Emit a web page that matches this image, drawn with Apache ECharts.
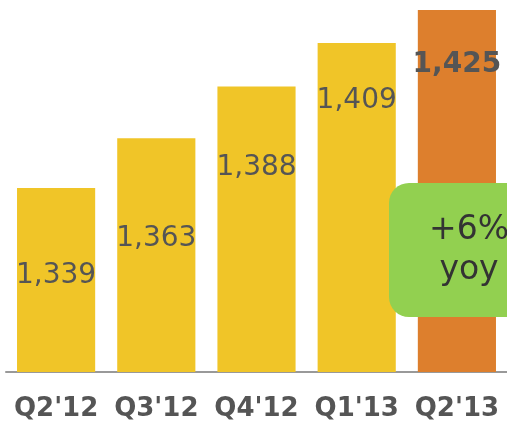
<!DOCTYPE html>
<html>
<head>
<meta charset="utf-8">
<script src="https://cdn.jsdelivr.net/npm/echarts@6/dist/echarts.min.js"></script>
<style>
  html, body { margin: 0; padding: 0; background: #fff; }
  #chart { width: 507px; height: 422px; }
</style>
</head>
<body>
<div id="chart"></div>
<script>
    const quarters = ["Q2'12", "Q3'12", "Q4'12", "Q1'13", "Q2'13"];
    const values = [1339, 1363, 1388, 1409, 1425];
    const yoyText = '+6%\nyoy';

    // how far below the bar top each value label sits
    const labelDrop = [74, 86, 67, 44, 41];

    const yellow = '#F0C528';
    const orange = '#DD7F2D';
    const lastIdx = values.length - 1;

    const chart = echarts.init(document.getElementById('chart'));

    chart.setOption({
        animation: false,
        grid: { left: 6, top: 10, width: 502, height: 362 },
        xAxis: {
            type: 'category',
            data: quarters,
            axisTick: { show: false },
            axisLine: { lineStyle: { color: '#999', width: 2 } },
            axisLabel: {
                interval: 0,
                hideOverlap: false,
                margin: 24,
                color: '#555',
                fontFamily: 'DejaVu Sans',
                fontWeight: 'bold',
                fontSize: 26
            }
        },
        yAxis: {
            type: 'value',
            min: 1250,
            max: 1425,
            show: false,
            splitLine: { show: false }
        },
        series: [{
            type: 'bar',
            barCategoryGap: '22%',
            data: values.map((v, i) => ({
                value: v,
                itemStyle: { color: i === lastIdx ? orange : yellow },
                label: {
                    distance: labelDrop[i],
                    fontWeight: i === lastIdx ? 'bold' : 'normal'
                }
            })),
            label: {
                show: true,
                position: 'insideTop',
                color: '#555',
                fontFamily: 'DejaVu Sans',
                fontSize: 28,
                formatter: p => p.value.toLocaleString('en-US')
            }
        }],
        graphic: [{
            type: 'rect',
            shape: { x: 389, y: 183, width: 160, height: 134, r: 20 },
            style: { fill: '#92D050' },
            z: 10
        }, {
            type: 'text',
            x: 469,
            y: 250,
            z: 11,
            style: {
                text: yoyText,
                fill: '#333',
                fontFamily: 'DejaVu Sans',
                fontSize: 33,
                lineHeight: 40,
                align: 'center',
                verticalAlign: 'middle'
            }
        }]
    });
</script>
</body>
</html>
